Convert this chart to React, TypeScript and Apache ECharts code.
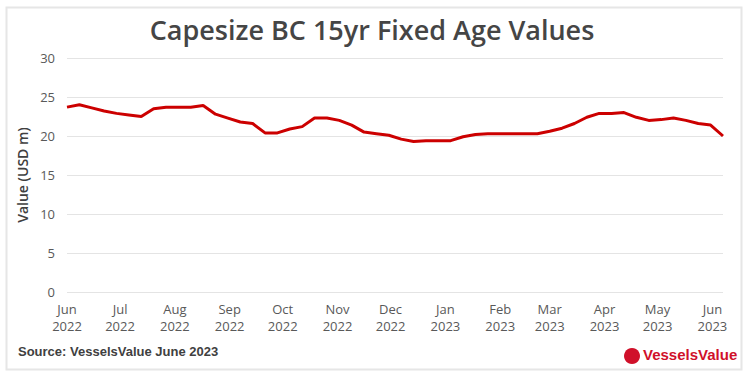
import React, { useEffect, useRef } from "react";
import * as echarts from "echarts";

const startDate = "2022-06-01";
const values: number[] = [
  23.7, 24.0, 23.6, 23.2, 22.9, 22.7, 22.5, 23.5, 23.7, 23.7,
  23.7, 23.9, 22.8, 22.3, 21.8, 21.6, 20.4, 20.4, 20.9, 21.2,
  22.3, 22.3, 22.0, 21.4, 20.5, 20.3, 20.1, 19.6, 19.3, 19.4,
  19.4, 19.4, 19.9, 20.2, 20.3, 20.3, 20.3, 20.3, 20.3, 20.6,
  21.0, 21.6, 22.4, 22.9, 22.9, 23.0, 22.4, 22.0, 22.1, 22.3,
  22.0, 21.6, 21.4, 20.0,
];
const monthNames = ["Jan", "Feb", "Mar", "Apr", "May", "Jun", "Jul", "Aug", "Sep", "Oct", "Nov", "Dec"];
const yTicks = { min: 0, max: 30, interval: 5 };
const titleText = "Capesize BC 15yr Fixed Age Values";
const yAxisName = "Value (USD m)";
const sourceText = "Source: VesselsValue June 2023";
const logoText = "VesselsValue";

const DAY = 86400000;

export default function App() {
  const ref = useRef<HTMLDivElement>(null);
  useEffect(() => {
    if (!ref.current) return;
    const chart = echarts.init(ref.current, null, { renderer: "svg" });
    const [y0, m0, d0] = startDate.split("-").map(Number);
    const start = new Date(y0, m0 - 1, d0).getTime();
    const data = values.map((v, i) => [start + i * 7 * DAY, v]);
    chart.setOption({
      animation: false,
      backgroundColor: "#ffffff",
      textStyle: { fontFamily: "Open Sans, sans-serif" },
      title: {
        text: titleText,
        left: "center",
        top: 11,
        textStyle: { fontSize: 27, fontWeight: 600, color: "#454545", fontFamily: "Open Sans, sans-serif" },
      },
      grid: { left: 67, right: 21, top: 58, bottom: 83, containLabel: false },
      xAxis: {
        type: "time",
        min: start,
        max: data[data.length - 1][0],
        minInterval: 28 * DAY,
        maxInterval: 31 * DAY,
        axisLine: { show: false },
        axisTick: { show: false },
        splitLine: { show: false },
        axisLabel: {
          color: "#595959",
          fontSize: 13,
          lineHeight: 17,
          margin: 8,
          showMinLabel: true,
          showMaxLabel: false,
          hideOverlap: false,
          formatter: (val: number) => {
            const d = new Date(val);
            return monthNames[d.getMonth()] + "\n" + d.getFullYear();
          },
        },
      },
      yAxis: {
        type: "value",
        min: yTicks.min,
        max: yTicks.max,
        interval: yTicks.interval,
        name: yAxisName,
        nameLocation: "middle",
        nameGap: 38,
        nameRotate: 90,
        nameTextStyle: { color: "#404040", fontSize: 14, fontWeight: 600 },
        axisLine: { show: false },
        axisTick: { show: false },
        axisLabel: { color: "#595959", fontSize: 13, margin: 12 },
        splitLine: { lineStyle: { color: "#e4e4e4", width: 1 } },
      },
      series: [
        {
          type: "line",
          data,
          showSymbol: false,
          lineStyle: { color: "#cc0000", width: 3 },
          itemStyle: { color: "#cc0000" },
        },
      ],
      graphic: [
        {
          type: "rect",
          left: 4,
          top: 5,
          shape: { width: 735, height: 362 },
          style: { fill: "none", stroke: "#e6e6e6", lineWidth: 2 },
          silent: true,
        },
        {
          type: "text",
          left: 18,
          top: 345,
          style: { text: sourceText, fill: "#404040", font: "bold 13px 'Liberation Sans Narrow', 'Liberation Sans', sans-serif" },
        },
        {
          type: "circle",
          shape: { cx: 632, cy: 356, r: 8 },
          style: { fill: "#d0102a" },
        },
        {
          type: "text",
          left: 643,
          top: 347,
          style: { text: logoText, fill: "#d0102a", font: "bold 15px 'Liberation Sans Narrow', 'Liberation Sans', sans-serif" },
        },
      ],
    });
    return () => chart.dispose();
  }, []);
  return <div ref={ref} style={{ position: "fixed", left: 0, top: 0, width: 744, height: 375 }} />;
}
